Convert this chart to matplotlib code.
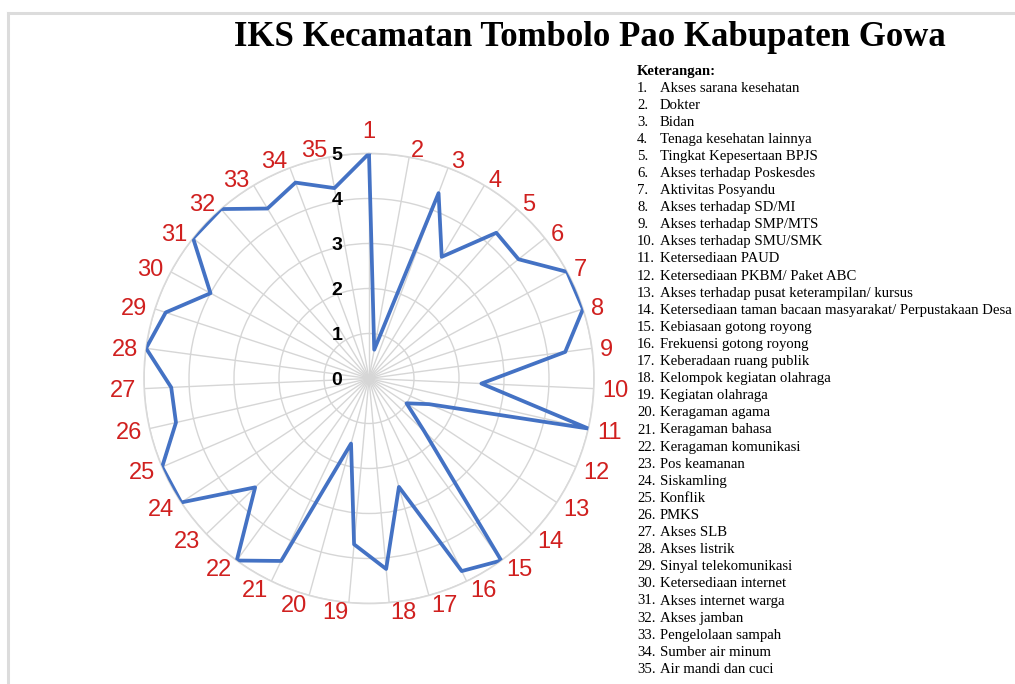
import numpy as np
import matplotlib.pyplot as plt
from matplotlib.lines import Line2D

# Data
nomor = [str(i) for i in range(1, 36)]
nilai = [5.0, 0.65, 4.4, 3.15, 4.3, 4.25, 5.0, 5.0, 4.4, 2.5,
         5.0, 1.45, 1.0, 1.7, 5.0, 4.75, 2.5, 4.25, 3.7, 1.5,
         4.5, 5.0, 3.5, 5.0, 5.0, 4.4, 4.4, 5.0, 4.75, 4.0,
         5.0, 5.0, 4.4, 4.65, 4.3]
keterangan = ["Akses sarana kesehatan", "Dokter", "Bidan", "Tenaga kesehatan lainnya",
              "Tingkat Kepesertaan BPJS", "Akses terhadap Poskesdes", "Aktivitas Posyandu",
              "Akses terhadap SD/MI", "Akses terhadap SMP/MTS", "Akses terhadap SMU/SMK",
              "Ketersediaan PAUD", "Ketersediaan PKBM/ Paket ABC",
              "Akses terhadap pusat keterampilan/ kursus",
              "Ketersediaan taman bacaan masyarakat/ Perpustakaan Desa",
              "Kebiasaan gotong royong", "Frekuensi gotong royong", "Keberadaan ruang publik",
              "Kelompok kegiatan olahraga", "Kegiatan olahraga", "Keragaman agama",
              "Keragaman bahasa", "Keragaman komunikasi", "Pos keamanan", "Siskamling",
              "Konflik", "PMKS", "Akses SLB", "Akses listrik", "Sinyal telekomunikasi",
              "Ketersediaan internet", "Akses internet warga", "Akses jamban",
              "Pengelolaan sampah", "Sumber air minum", "Air mandi dan cuci"]
skala = [0, 1, 2, 3, 4, 5]

W, H = 1015, 684
fig = plt.figure(figsize=(W / 100, H / 100), dpi=100)

# garis bingkai (atas dan kiri)
fig.add_artist(Line2D([8 / W, 1], [1 - 13 / H, 1 - 13 / H], color='#dcdcdc', lw=2.2))
fig.add_artist(Line2D([8 / W, 8 / W], [0, 1 - 13 / H], color='#dcdcdc', lw=2.2))

fig.text(590 / W, 1 - 38 / H, "IKS Kecamatan Tombolo Pao Kabupaten Gowa",
         family='Liberation Serif', weight='bold', fontsize=25, ha='center', va='center')

# radar
cx, cy, R = 369, 378.5, 225
ax = fig.add_axes([(cx - R) / W, (H - cy - R) / H, 2 * R / W, 2 * R / H], projection='polar')
ax.set_theta_zero_location('N')
ax.set_theta_direction(-1)
sudut = np.linspace(0, 2 * np.pi, len(nilai), endpoint=False)
ax.set_ylim(0, 5)

ax.plot(np.append(sudut, sudut[0]), nilai + [nilai[0]], color='#4472c4', lw=2.7, zorder=5)

ax.set_xticks(sudut)
ax.set_xticklabels([])
ax.set_yticks(skala[1:])
ax.set_yticklabels([])
ax.grid(color='#d6d6d6', lw=1)
ax.spines['polar'].set_color('#d9d9d9')
ax.spines['polar'].set_linewidth(1.2)

# label kategori di luar lingkaran (gaya Excel)
fs = 17
px = fs * 100 / 72
gap = 8
for t, lab in zip(sudut, nomor):
    s, c = np.sin(t), np.cos(t)
    w = len(lab) * 0.556 * px
    h = 0.716 * px
    sx = np.sign(round(s, 6))
    dx = gap * s + sx * w / 2
    dy = c * h / 2
    if sx == 0:
        dy += 16
    ax.annotate(lab, xy=(t, 5), xytext=(dx, dy - h / 2), textcoords='offset pixels',
                ha='center', va='baseline', color='#d0201f', fontsize=fs,
                family='Liberation Sans', annotation_clip=False)

for k in skala:
    ax.annotate(str(k), xy=(0, k), xytext=(-32, -2), textcoords='offset pixels',
                ha='center', va='center', fontsize=14, weight='bold',
                family='Liberation Sans', zorder=6)

# keterangan
fig.text(637 / W, 1 - 72 / H, "Keterangan:", family='Liberation Serif', weight='bold',
         fontsize=10.5, va='center')
for i, teks in enumerate(keterangan):
    y = 1 - (88 + i * 17.1) / H
    fig.text(637 / W, y, f"{i + 1}.", family='Liberation Serif', fontsize=10.6, va='center')
    fig.text(660 / W, y, teks, family='Liberation Serif', fontsize=10.6, va='center')

fig.savefig('out.png', dpi=100)
